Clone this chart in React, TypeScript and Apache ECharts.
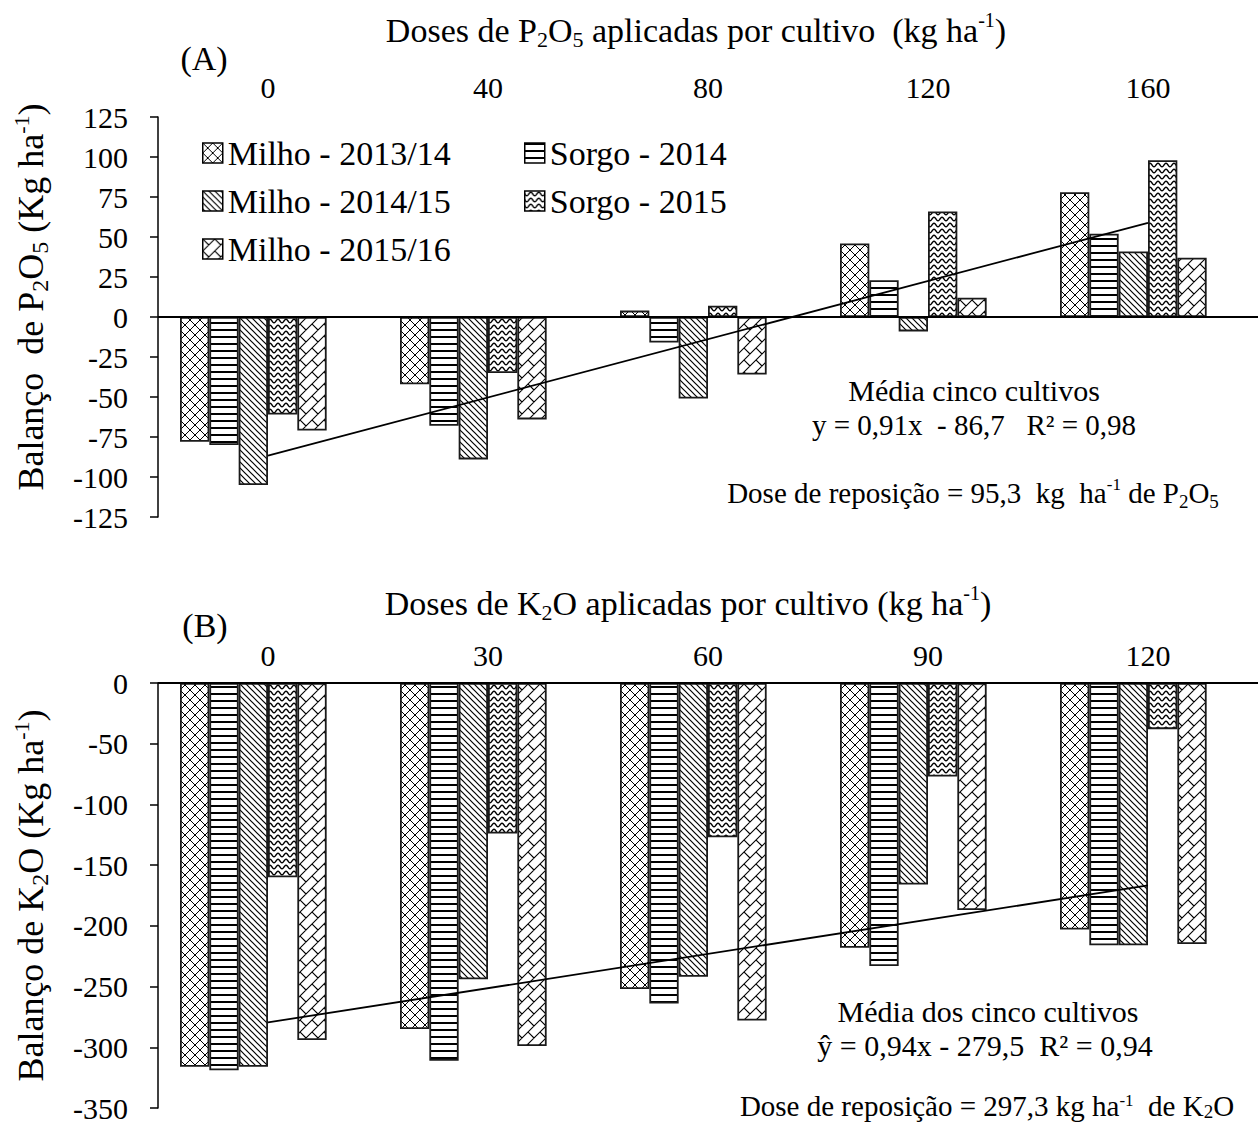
import React, { useEffect, useRef } from "react";
import * as echarts from "echarts";

const FF = "Liberation Serif";

const seriesNames = ["Milho - 2013/14", "Sorgo - 2014", "Milho - 2014/15", "Sorgo - 2015", "Milho - 2015/16"];
const dosesP = ["0", "40", "80", "120", "160"];
const dosesK = ["0", "30", "60", "90", "120"];

// Panel A: balanço de P2O5
const pMilho1314 = [-78, -42, 4, 46, 78];
const pSorgo2014 = [-80, -68, -16, 23, 52];
const pMilho1415 = [-105, -89, -51, -9, 41];
const pSorgo2015 = [-61, -35, 7, 66, 98];
const pMilho1516 = [-71, -64, -36, 12, 37];
const pTrend = [-86.7, null, null, null, 58.9];

// Panel B: balanço de K2O
const kMilho1314 = [-316, -285, -252, -218, -203];
const kSorgo2014 = [-319, -311, -264, -233, -216];
const kMilho1415 = [-316, -244, -242, -166, -216];
const kSorgo2015 = [-160, -124, -127, -77, -38];
const kMilho1516 = [-294, -299, -278, -187, -215];
const kTrend = [-279.5, null, null, null, -166.7];

const pAxisMin = -125, pAxisMax = 125, pAxisStep = 25;
const kAxisMin = -350, kAxisMax = 0, kAxisStep = 50;

const NB = "\u00A0";
const titleA = `Doses de P{sub|2}O{sub|5} aplicadas por cultivo${NB}${NB}(kg ha{sup|-1})`;
const titleB = "Doses de K{sub|2}O aplicadas por cultivo (kg ha{sup|-1})";
const yNameA = `Balanço${NB}${NB}de P{sub|2}O{sub|5} (Kg ha{sup|-1})`;
const yNameB = "Balanço de K{sub|2}O (Kg ha{sup|-1})";
const noteA1 = "Média cinco cultivos";
const noteA2 = `y = 0,91x${NB} - 86,7${NB}${NB}${NB}R² = 0,98`;
const noteA3 = `Dose de reposição = 95,3${NB}${NB}kg${NB}${NB}ha{sup|-1} de P{sub|2}O{sub|5}`;
const noteB1 = "Média dos cinco cultivos";
const noteB2 = `ŷ = 0,94x - 279,5${NB}${NB}R² = 0,94`;
const noteB3 = `Dose de reposição = 297,3${NB}kg ha{sup|-1}${NB}${NB}de K{sub|2}O`;

function tile(w: number, h: number, draw: (ctx: CanvasRenderingContext2D) => void) {
  const c = document.createElement("canvas");
  c.width = w;
  c.height = h;
  const ctx = c.getContext("2d") as CanvasRenderingContext2D;
  ctx.fillStyle = "#fff";
  ctx.fillRect(0, 0, w, h);
  ctx.strokeStyle = "#000";
  ctx.fillStyle = "#000";
  ctx.lineWidth = 1;
  draw(ctx);
  return { image: c, repeat: "repeat", imageWidth: w, imageHeight: h };
}

function makePatterns() {
  const cross = tile(10, 10, (ctx) => {
    ctx.beginPath();
    ctx.moveTo(-1, -1); ctx.lineTo(11, 11);
    ctx.moveTo(11, -1); ctx.lineTo(-1, 11);
    ctx.stroke();
  });
  const horiz = tile(6, 7, (ctx) => {
    ctx.fillRect(0, 0, 6, 2);
  });
  const diag = tile(6, 6, (ctx) => {
    ctx.lineWidth = 1.2;
    ctx.beginPath();
    ctx.moveTo(-1, -1); ctx.lineTo(7, 7);
    ctx.moveTo(-1, 5); ctx.lineTo(1, 7);
    ctx.moveTo(5, -1); ctx.lineTo(7, 1);
    ctx.stroke();
  });
  const wave = tile(8, 6, (ctx) => {
    ctx.lineWidth = 1.4;
    ctx.beginPath();
    for (let x = -1; x <= 9; x += 0.5) {
      const y = 3 + 1.8 * Math.sin((2 * Math.PI * x) / 8);
      if (x === -1) ctx.moveTo(x, y); else ctx.lineTo(x, y);
    }
    ctx.stroke();
  });
  const u = 12;
  const brick = tile(u, u, (ctx) => {
    ctx.lineWidth = 1.1;
    ctx.beginPath();
    for (let k = -1; k <= 3; k++) {
      ctx.moveTo(-u, u * k + u);
      ctx.lineTo(2 * u, u * k - 2 * u);
    }
    for (let k = -2; k <= 3; k++) {
      for (let m = -2; m <= 3; m++) {
        const a = u * m;
        ctx.moveTo(a, u * k - a);
        ctx.lineTo(a + u / 2, u * k - a + u / 2);
      }
    }
    ctx.stroke();
  });
  return [cross, horiz, diag, wave, brick];
}

function richFor(base: number) {
  return {
    sub: { fontSize: Math.round(base * 0.66), fontFamily: FF, verticalAlign: "bottom", lineHeight: Math.round(base * 0.66), color: "#000", fill: "#000" },
    sup: { fontSize: Math.round(base * 0.6), fontFamily: FF, verticalAlign: "top", lineHeight: Math.round(base * 0.6), color: "#000", fill: "#000" },
  };
}

function textEl(text: string, x: number, y: number, size: number, lh?: number) {
  return {
    type: "text",
    x,
    y,
    silent: true,
    style: {
      text,
      fontSize: size,
      fontFamily: FF,
      fill: "#000",
      align: "center",
      verticalAlign: "middle",
      textAlign: "center",
      textVerticalAlign: "middle",
      lineHeight: lh || Math.round(size * 1.2),
      rich: richFor(size),
    },
  };
}

export default function App() {
  const ref = useRef<HTMLDivElement>(null);
  useEffect(() => {
    document.body.style.margin = "0";
    if (!ref.current) return;
    const chart = echarts.init(ref.current, null, { renderer: "svg" });
    const patterns = makePatterns();
    const panels = [
      { data: [pMilho1314, pSorgo2014, pMilho1415, pSorgo2015, pMilho1516], trend: pTrend },
      { data: [kMilho1314, kSorgo2014, kMilho1415, kSorgo2015, kMilho1516], trend: kTrend },
    ];
    const series: any[] = [];
    panels.forEach((panel, pi) => {
      panel.data.forEach((vals, si) => {
        series.push({
          type: "bar",
          name: seriesNames[si],
          xAxisIndex: pi,
          yAxisIndex: pi,
          data: vals,
          barGap: "0%",
          barCategoryGap: "20%",
          itemStyle: { color: patterns[si], borderColor: "#1a1a1a", borderWidth: 1.8 },
          emphasis: { disabled: true },
        });
      });
      series.push({
        type: "bar",
        name: "slot",
        xAxisIndex: pi,
        yAxisIndex: pi,
        data: [null, null, null, null, null],
        barGap: "0%",
        barCategoryGap: "20%",
        silent: true,
      });
      series.push({
        type: "line",
        name: "Média",
        xAxisIndex: pi,
        yAxisIndex: pi,
        data: panel.trend,
        connectNulls: true,
        symbol: "none",
        z: 5,
        lineStyle: { color: "#000", width: 1.8 },
        silent: true,
        markLine: {
          silent: true,
          symbol: ["none", "none"],
          label: { show: false },
          lineStyle: { color: "#000", width: 2, type: "solid" },
          data: [{ yAxis: 0 }],
        },
      });
    });

    const labelStyle = { fontSize: 30, fontFamily: FF, color: "#000" };
    const legendBase = {
      orient: "vertical",
      top: 131,
      padding: 5,
      itemWidth: 20,
      itemHeight: 20,
      itemGap: 14,
      icon: "rect",
      selectedMode: false,
      textStyle: { fontSize: 34, fontFamily: FF, color: "#000", lineHeight: 34 },
      itemStyle: { borderColor: "#000", borderWidth: 1.5 },
    };

    const option: any = {
      animation: false,
      backgroundColor: "#fff",
      textStyle: { fontFamily: FF },
      grid: [
        { left: 158, top: 117, width: 1110, height: 400 },
        { left: 158, top: 683, width: 1110, height: 428 },
      ],
      legend: [
        { ...legendBase, left: 197, data: [seriesNames[0], seriesNames[2], seriesNames[4]] },
        { ...legendBase, left: 519, data: [seriesNames[1], seriesNames[3]] },
      ],
      xAxis: [dosesP, dosesK].map((cats, i) => ({
        type: "category",
        gridIndex: i,
        data: cats,
        position: "top",
        axisLine: { show: false, onZero: false },
        axisTick: { show: false },
        splitLine: { show: false },
        axisLabel: { ...labelStyle, margin: i === 0 ? 15 : 13 },
      })),
      yAxis: [
        { min: pAxisMin, max: pAxisMax, interval: pAxisStep, name: yNameA, pad: [0, 0, 0, 40] },
        { min: kAxisMin, max: kAxisMax, interval: kAxisStep, name: yNameB, pad: [0, 0, 0, 0] },
      ].map((a, i) => ({
        type: "value",
        gridIndex: i,
        min: a.min,
        max: a.max,
        interval: a.interval,
        axisLine: { show: true, lineStyle: { color: "#000", width: 1.5 } },
        axisTick: { show: true, length: 8, lineStyle: { color: "#000", width: 1.5 } },
        splitLine: { show: false },
        axisLabel: { ...labelStyle, margin: 30 },
        name: a.name,
        nameLocation: "middle",
        nameRotate: 90,
        nameGap: 106,
        nameTextStyle: {
          fontSize: 36,
          fontFamily: FF,
          color: "#000",
          lineHeight: 42,
          padding: a.pad,
          rich: richFor(36),
        },
      })),
      graphic: [
        textEl(titleA, 696, 30, 34),
        textEl("(A)", 204, 58, 34),
        textEl(titleB, 688, 603, 34),
        textEl("(B)", 205, 625, 34),
        textEl(noteA1, 974, 390, 30),
        textEl(noteA2, 974, 425, 29),
        textEl(noteA3, 973, 493, 29),
        textEl(noteB1, 988, 1011, 30),
        textEl(noteB2, 985, 1045, 30),
        textEl(noteB3, 987, 1106, 29, 29),
      ],
      series,
    };
    chart.setOption(option);
    return () => chart.dispose();
  }, []);
  return <div ref={ref} style={{ width: 1258, height: 1123 }} />;
}
